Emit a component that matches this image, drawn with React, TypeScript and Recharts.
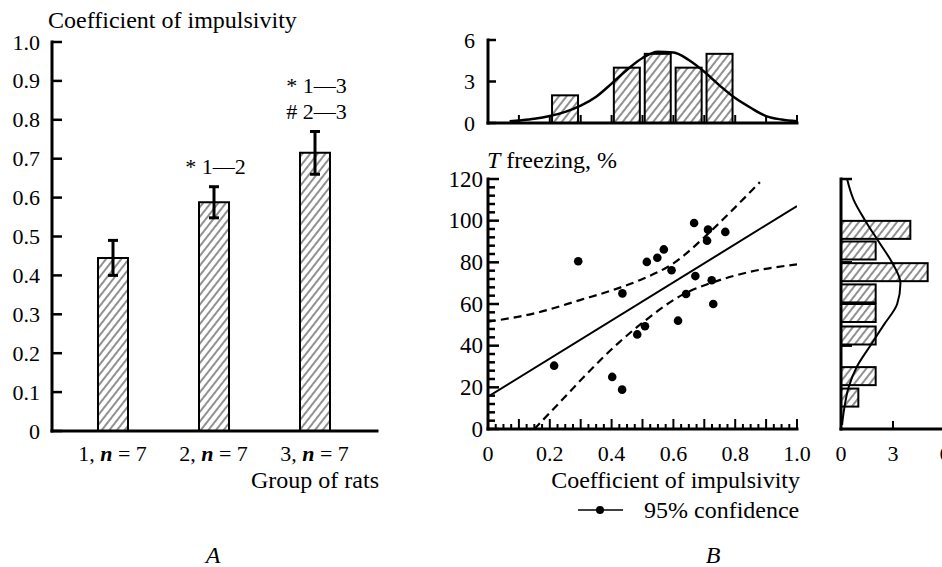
import React from "react";
import { ComposedChart, Bar, Line, Scatter, XAxis, YAxis, ErrorBar } from "recharts";

const FONT = "'Liberation Serif', 'Times New Roman', serif";

// A: coefficient of impulsivity per group of rats
const groups = ["1", "2", "3"];
const groupN = [7, 7, 7];
const impulsivityMean = [0.445, 0.588, 0.715];
const impulsivityErr = [0.045, 0.04, 0.055];
const significance = [[], ["* 1—2"], ["* 1—3", "# 2—3"]];
const impulsivityTicks = [0, 0.1, 0.2, 0.3, 0.4, 0.5, 0.6, 0.7, 0.8, 0.9, 1.0];

// B: freezing time vs coefficient of impulsivity (one dot per rat)
const ratImpulsivity = [0.214, 0.292, 0.402, 0.434, 0.435, 0.483, 0.508, 0.514, 0.548, 0.569,
  0.594, 0.615, 0.641, 0.667, 0.671, 0.709, 0.712, 0.724, 0.729, 0.768];
const ratFreezing = [30.4, 80.5, 25, 18.9, 65.1, 45.4, 49.3, 80.2, 82.2, 86.2,
  76.2, 52, 64.8, 98.9, 73.4, 90.4, 95.7, 71.4, 60, 94.6];
const fitX = [0, 1];
const fitY = [15.5, 107];
const upperX = [0, 0.15, 0.3, 0.42, 0.5, 0.6, 0.7, 0.77, 0.88];
const upperY = [51.5, 55.5, 62, 67.5, 72, 79.5, 92, 102, 118.5];
const lowerX = [0.15, 0.24, 0.31, 0.42, 0.5, 0.63, 0.74, 0.85, 1.0];
const lowerY = [0, 14, 25, 41, 51, 64.5, 71, 75.5, 79];

// B top: histogram of impulsivity + normal curve
const impBins = [0.25, 0.45, 0.55, 0.65, 0.75];
const impCounts = [2, 4, 5, 4, 5];
const impCurveX = [0.07, 0.1, 0.15, 0.2, 0.25, 0.3, 0.35, 0.4, 0.45, 0.5, 0.55, 0.6, 0.65, 0.7, 0.75, 0.8, 0.85, 0.9, 0.95, 1.0];
const impCurveY = [0.12, 0.18, 0.3, 0.5, 0.8, 1.25, 1.9, 2.85, 3.85, 4.7, 5.15, 5.1, 4.55, 3.7, 2.7, 1.8, 1.1, 0.5, 0.25, 0.12];

// B right: histogram of freezing + normal curve
const freezeBins = [15, 25.3, 44.8, 55.6, 65, 75.2, 85.6, 95.5];
const freezeCounts = [1, 2, 2, 2, 2, 5, 2, 4];
const freezeCurveY = [2, 10, 20, 30, 40, 50, 60, 70, 80, 90, 100, 110, 120];
const freezeCurveX = [0.06, 0.19, 0.44, 0.92, 1.69, 2.47, 3.24, 3.43, 2.94, 2.17, 1.4, 0.73, 0.35];

const groupData = groups.map((g, i) => ({
  group: g,
  value: impulsivityMean[i],
  err: impulsivityErr[i],
  top: impulsivityMean[i] + impulsivityErr[i],
  sig: significance[i],
}));
const scatterData = ratImpulsivity.map((x, i) => ({ x, y: ratFreezing[i] }));
const fitData = fitX.map((x, i) => ({ x, y: fitY[i] }));
const upperData = upperX.map((x, i) => ({ x, y: upperY[i] }));
const lowerData = lowerX.map((x, i) => ({ x, y: lowerY[i] }));
const impHist = impBins.map((x, i) => ({ x, count: impCounts[i] }));
const impCurve = impCurveX.map((x, i) => ({ x, y: impCurveY[i] }));
const freezeHist = freezeBins.map((y, i) => ({ y, count: freezeCounts[i] }));
const freezeCurve = freezeCurveY.map((y, i) => ({ y, density: freezeCurveX[i] }));

const xMinor = Array.from({ length: 41 }, (_, i) => i / 40);
const yMinor = Array.from({ length: 31 }, (_, i) => i * 4);

const axisLine = { stroke: "#000", strokeWidth: 3, strokeLinecap: "square" as const };
const txt: React.CSSProperties = { fontFamily: FONT };

// tick on a left axis: line pointing into the plot, label to the left
const leftTick = (margin: number, len: (v: number, i: number) => number, label: (v: number, i: number) => string, size = 22) =>
  (props: any) => {
    const { x, y, payload, index } = props;
    const ax = x + margin;
    const l = len(payload.value, index);
    const t = label(payload.value, index);
    return (
      <g>
        {l > 0 && <line x1={ax} x2={ax + l} y1={y} y2={y} stroke="#000" strokeWidth={2.5} />}
        {t && (
          <text x={x} y={y} textAnchor="end" dominantBaseline="central" style={txt} fontSize={size} fill="#000">
            {t}
          </text>
        )}
      </g>
    );
  };

// tick on a bottom axis: line pointing up into the plot, label below
const bottomTick = (margin: number, len: (v: number, i: number) => number, label: (v: number, i: number) => string) =>
  (props: any) => {
    const { x, y, payload, index } = props;
    const ay = y - margin;
    const l = len(payload.value, index);
    const t = label(payload.value, index);
    return (
      <g>
        {l > 0 && <line x1={x} x2={x} y1={ay} y2={ay - l} stroke="#000" strokeWidth={2} />}
        {t && (
          <text x={x} y={y} textAnchor="middle" dominantBaseline="central" style={txt} fontSize={22} fill="#000">
            {t}
          </text>
        )}
      </g>
    );
  };

const fmt1 = (v: number) => (v === 0 ? "0" : v.toFixed(1));

const GroupTick = (props: any) => {
  const { x, y, payload } = props;
  const i = groups.indexOf(payload.value);
  return (
    <text x={x} y={y} textAnchor="middle" dominantBaseline="central" style={txt} fontSize={22} fill="#000">
      {`${payload.value}, `}
      <tspan fontStyle="italic" fontWeight="bold">n</tspan>
      {` = ${groupN[i]}`}
    </text>
  );
};

const SigLabels = (props: any) => {
  const { cx, cy, payload } = props;
  const lines: string[] = payload.sig || [];
  return (
    <g>
      {lines.map((t, k) => (
        <text
          key={k}
          x={cx + 2}
          y={cy - 20 - (lines.length - 1 - k) * 26}
          textAnchor="middle"
          dominantBaseline="central"
          style={txt}
          fontSize={22}
          fill="#000"
        >
          {t}
        </text>
      ))}
    </g>
  );
};

const Dot = (props: any) => <circle cx={props.cx} cy={props.cy} r={4.3} fill="#000" />;

// histogram bars keep a fixed thickness, centred on the bin
const colBar = (size: number) => (p: any) =>
  p.height ? (
    <rect x={p.x + p.width / 2 - size / 2} y={p.y} width={size} height={p.height} fill="url(#hatch)" stroke="#000" strokeWidth={2} />
  ) : null;
const rowBar = (size: number) => (p: any) =>
  p.width ? (
    <rect x={p.x} y={p.y + p.height / 2 - size / 2} width={p.width} height={size} fill="url(#hatch)" stroke="#000" strokeWidth={2} />
  ) : null;

const abs = (left: number, top: number): React.CSSProperties => ({ position: "absolute", left, top });

export default function App() {
  return (
    <div style={{ position: "absolute", left: 0, top: 0, width: 942, height: 567, overflow: "hidden", background: "#fff" }}>
      <svg width={0} height={0} style={{ position: "absolute" }}>
        <defs>
          <pattern id="hatch" patternUnits="userSpaceOnUse" width={6} height={6} patternTransform="rotate(38)">
            <rect width={6} height={6} fill="#fff" />
            <line x1={3} y1={0} x2={3} y2={6} stroke="#222" strokeWidth={1} />
          </pattern>
        </defs>
      </svg>

      {/* A */}
      <div style={abs(0, 0)}>
        <ComposedChart width={400} height={470} data={groupData} margin={{ top: 42, right: 23, left: 0, bottom: 0 }}>
          <XAxis
            dataKey="group"
            type="category"
            height={39}
            padding={{ left: 10, right: 12 }}
            axisLine={axisLine}
            tickLine={false}
            tickSize={0}
            tickMargin={22}
            interval={0}
            tick={GroupTick}
          />
          <YAxis
            type="number"
            domain={[0, 1]}
            ticks={impulsivityTicks}
            width={52}
            axisLine={axisLine}
            tickLine={false}
            tickSize={0}
            tickMargin={12}
            interval={0}
            tick={leftTick(12, () => 10, (v) => fmt1(v))}
          />
          <Bar dataKey="value" barSize={30} fill="url(#hatch)" stroke="#000" strokeWidth={2} isAnimationActive={false}>
            <ErrorBar dataKey="err" width={5} strokeWidth={3} stroke="#000" direction="y" />
          </Bar>
          <Scatter dataKey="top" shape={SigLabels} isAnimationActive={false} />
        </ComposedChart>
      </div>

      {/* B top histogram */}
      <div style={abs(440, 0)}>
        <ComposedChart width={400} height={150} data={impHist} margin={{ top: 40, right: 43, left: 0, bottom: 0 }}>
          <XAxis
            dataKey="x"
            type="number"
            domain={[0, 1]}
            ticks={[0.1, 0.2, 0.3, 0.4, 0.5, 0.6, 0.7, 0.8, 0.9, 1.0]}
            height={27}
            axisLine={axisLine}
            tickLine={false}
            tickSize={0}
            tickMargin={10}
            interval={0}
            tick={bottomTick(10, () => 8, () => "")}
          />
          <YAxis
            type="number"
            domain={[0, 6]}
            ticks={[0, 3, 6]}
            width={48}
            axisLine={axisLine}
            tickLine={false}
            tickSize={0}
            tickMargin={13}
            interval={0}
            tick={leftTick(13, () => 8, (v) => String(v))}
          />
          <Bar dataKey="count" shape={colBar(26)} isAnimationActive={false} />
          <Line data={impCurve} dataKey="y" type="monotone" stroke="#000" strokeWidth={2.5} dot={false} isAnimationActive={false} />
        </ComposedChart>
      </div>

      {/* B scatter */}
      <div style={abs(440, 150)}>
        <ComposedChart width={400} height={340} margin={{ top: 29, right: 43, left: 0, bottom: 30 }}>
          <XAxis
            dataKey="x"
            type="number"
            domain={[0, 1]}
            ticks={xMinor}
            height={31}
            axisLine={axisLine}
            tickLine={false}
            tickSize={0}
            tickMargin={24}
            interval={0}
            allowDataOverflow
            tick={bottomTick(24, (_v, i) => (i % 4 === 0 ? 10 : 5), (v, i) => (i % 8 === 0 ? fmt1(v) : ""))}
          />
          <YAxis
            dataKey="y"
            type="number"
            domain={[0, 120]}
            ticks={yMinor}
            width={48}
            axisLine={axisLine}
            tickLine={false}
            tickSize={0}
            tickMargin={5}
            interval={0}
            allowDataOverflow
            tick={leftTick(5, (v) => (v % 20 === 0 ? 11 : 7), (v) => (v % 20 === 0 ? String(v) : ""), 23)}
          />
          <Line data={upperData} dataKey="y" type="monotone" stroke="#000" strokeWidth={2.2} strokeDasharray="8 5" dot={false} isAnimationActive={false} />
          <Line data={lowerData} dataKey="y" type="monotone" stroke="#000" strokeWidth={2.2} strokeDasharray="8 5" dot={false} isAnimationActive={false} />
          <Line data={fitData} dataKey="y" type="linear" stroke="#000" strokeWidth={2} dot={false} isAnimationActive={false} />
          <Scatter data={scatterData} dataKey="y" shape={Dot} isAnimationActive={false} />
        </ComposedChart>
      </div>

      {/* B right histogram */}
      <div style={abs(820, 150)}>
        <ComposedChart layout="vertical" width={140} height={340} data={freezeHist} margin={{ top: 29, right: 15, left: 0, bottom: 30 }}>
          <XAxis
            type="number"
            domain={[0, 6]}
            ticks={[0, 3, 6]}
            height={31}
            axisLine={axisLine}
            tickLine={false}
            tickSize={0}
            tickMargin={24}
            interval={0}
            tick={bottomTick(24, (v) => (v === 0 ? 0 : 8), (v) => String(v))}
          />
          <YAxis
            dataKey="y"
            type="number"
            domain={[0, 120]}
            ticks={[40, 80, 120]}
            reversed
            width={21}
            axisLine={axisLine}
            tickLine={false}
            tickSize={0}
            tickMargin={0}
            interval={0}
            tick={leftTick(0, () => 11, () => "")}
          />
          <Bar dataKey="count" shape={rowBar(18)} isAnimationActive={false} />
          <Line data={freezeCurve} dataKey="density" type="monotone" stroke="#000" strokeWidth={2} dot={false} isAnimationActive={false} />
        </ComposedChart>
      </div>

      {/* titles and labels */}
      <svg width={942} height={567} style={{ position: "absolute", left: 0, top: 0, pointerEvents: "none" }}>
        <g style={txt} fontSize={24} fill="#000" dominantBaseline="central">
          <text x={48} y={20}>Coefficient of impulsivity</text>
          <text x={379} y={480} textAnchor="end">Group of rats</text>
          <text x={213} y={555} textAnchor="middle" fontStyle="italic">A</text>
          <text x={487} y={160}>
            <tspan fontStyle="italic">T</tspan> freezing, %
          </text>
          <text x={800} y={480} textAnchor="end">Coefficient of impulsivity</text>
          <line x1={578} x2={623} y1={510} y2={510} stroke="#000" strokeWidth={1.5} />
          <circle cx={600} cy={510} r={4} fill="#000" />
          <text x={644} y={510}>95% confidence</text>
          <text x={713} y={555} textAnchor="middle" fontStyle="italic">B</text>
        </g>
      </svg>
    </div>
  );
}
